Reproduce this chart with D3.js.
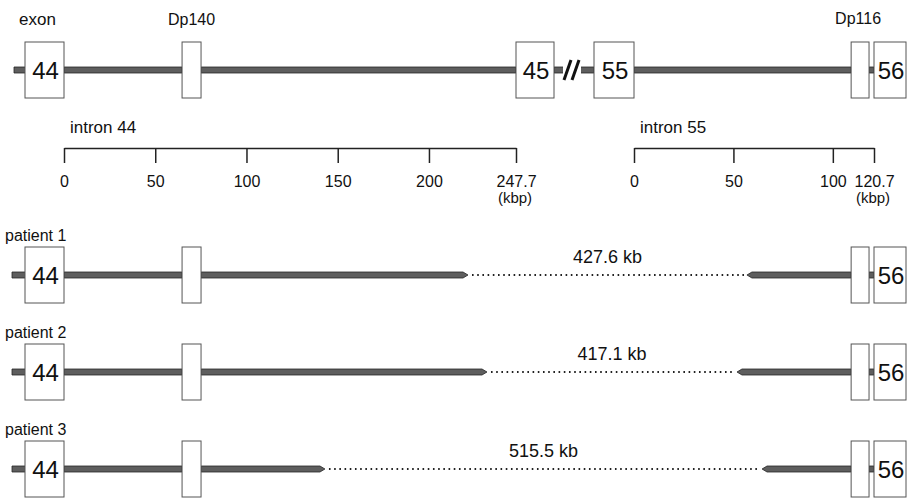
<!DOCTYPE html>
<html>
<head>
<meta charset="utf-8">
<script src="https://cdn.jsdelivr.net/npm/d3@7"></script>
<style>
	body { margin:0; background:#fff; }
	svg text { font-family:"Liberation Sans", Arial, sans-serif; fill:#111; }
</style>
</head>
<body>
<div id="gene-chart" style="width:909px;height:503px;"></div>
<script>
// exon labels and intron lengths (kbp)
var exonNames = ["44", "45", "55", "56"];
var intron44Length = 247.7;
var intron55Length = 120.7;
var intron44Ticks = [0, 50, 100, 150, 200, 247.7];
var intron55Ticks = [0, 50, 100, 120.7];

// promoter exons, position inside the intron (kbp)
var dp140Range = [64.7, 75.1];   // intron 44
var dp116Range = [109.2, 118.2]; // intron 55

// deletions
var patients = ["patient 1", "patient 2", "patient 3"];
var deletionLabels = ["427.6 kb", "417.1 kb", "515.5 kb"];
var break44 = [221.4, 231.8, 143.0]; // breakpoint in intron 44 (kbp)
var break55 = [56.8, 51.8, 64.4];    // breakpoint in intron 55 (kbp)

var dom = document.getElementById('gene-chart');
var width = 909, height = 503;

var svg = d3.select(dom)
	.append("svg")
	.attr("width", width)
	.attr("height", height);

var x44 = d3.scaleLinear().domain([0, intron44Length]).range([64, 516]);
var x55 = d3.scaleLinear().domain([0, intron55Length]).range([634, 874]);

var rowY = d3.scalePoint()
	.domain(patients)
	.range([275, 469]);

var topY = 70;
var barH = 6;
var boxUp = 28, boxDown = 28;

// thick intron line, optionally pointed at either end
function bar(g, xa, xb, y, tipL, tipR) {
	var h = barH / 2, t = 5;
	var pts = [
		[xa + (tipL ? t : 0), y - h],
		[xb - (tipR ? t : 0), y - h],
		[xb, y],
		[xb - (tipR ? t : 0), y + h],
		[xa + (tipL ? t : 0), y + h],
		[xa, y]
	];
	g.append("path")
		.attr("d", d3.line()(pts) + "Z")
		.attr("fill", "#5e5e5e")
		.attr("stroke", "#262626")
		.attr("stroke-width", 0.8);
}

function box(g, xa, xb, y, label) {
	g.append("rect")
		.attr("x", xa)
		.attr("y", y - boxUp)
		.attr("width", xb - xa)
		.attr("height", boxUp + boxDown)
		.attr("fill", "#fff")
		.attr("stroke", "#555")
		.attr("stroke-width", 1);
	if (label) {
		g.append("text")
			.attr("x", (xa + xb) / 2 + 1)
			.attr("y", y + 9)
			.attr("text-anchor", "middle")
			.attr("font-size", 24)
			.text(label);
	}
}

// ---- top row: normal gene ----
var topRow = svg.append("g");
bar(topRow, 14, 26, topY);
bar(topRow, x44(0), x44(dp140Range[0]), topY);
bar(topRow, x44(dp140Range[1]), x44(intron44Length), topY);
bar(topRow, x44(intron44Length) + 38, x55(0) - 40, topY);
bar(topRow, x55(0), x55(dp116Range[0]), topY);
bar(topRow, x55(dp116Range[1]), x55(intron55Length), topY);

// break mark
topRow.append("rect")
	.attr("x", 563).attr("y", topY - 5).attr("width", 18).attr("height", 10)
	.attr("fill", "#fff");
[567, 575].forEach(function(d) {
	topRow.append("line")
		.attr("x1", d - 3).attr("y1", topY + 10)
		.attr("x2", d + 4).attr("y2", topY - 10)
		.attr("stroke", "#111")
		.attr("stroke-width", 3);
});

box(topRow, 25, x44(0), topY, exonNames[0]);
box(topRow, x44(dp140Range[0]), x44(dp140Range[1]), topY);
box(topRow, x44(intron44Length), x44(intron44Length) + 38, topY, exonNames[1]);
box(topRow, x55(0) - 40, x55(0), topY, exonNames[2]);
box(topRow, x55(dp116Range[0]), x55(dp116Range[1]), topY);
box(topRow, x55(intron55Length), x55(intron55Length) + 32, topY, exonNames[3]);

topRow.append("text").attr("x", 19).attr("y", 25).attr("font-size", 17).text("exon");
topRow.append("text").attr("x", x44(d3.mean(dp140Range))).attr("y", 25)
	.attr("text-anchor", "middle").attr("font-size", 16).text("Dp140");
topRow.append("text").attr("x", x55(d3.mean(dp116Range)) - 2).attr("y", 24)
	.attr("text-anchor", "middle").attr("font-size", 16).text("Dp116");

// ---- intron scales ----
function scaleAxis(scale, ticks, title) {
	var axis = d3.axisBottom(scale)
		.tickValues(ticks)
		.tickFormat(function(d) { return String(d); })
		.tickSizeInner(15)
		.tickSizeOuter(0)
		.tickPadding(13);
	var g = svg.append("g")
		.attr("transform", "translate(0,148)")
		.call(axis);
	g.select(".domain").attr("stroke", "#222").attr("stroke-width", 1.5);
	g.selectAll(".tick line").attr("stroke", "#222").attr("stroke-width", 1.5);
	g.selectAll(".tick text")
		.attr("font-size", 16)
		.attr("font-family", "Liberation Sans, Arial, sans-serif")
		.attr("fill", "#111");
	g.append("text")
		.attr("x", scale(ticks[ticks.length - 1]) - 1)
		.attr("y", 55)
		.attr("text-anchor", "middle")
		.attr("font-size", 15)
		.text("(kbp)");
	svg.append("text")
		.attr("x", scale(0) + 6)
		.attr("y", 133)
		.attr("font-size", 17)
		.text(title);
}
scaleAxis(x44, intron44Ticks, "intron 44");
scaleAxis(x55, intron55Ticks, "intron 55");

// ---- patient rows ----
patients.forEach(function(p, i) {
	var y = rowY(p);
	var g = svg.append("g");
	bar(g, 12, 26, y);
	bar(g, x44(0), x44(dp140Range[0]), y);
	bar(g, x44(dp140Range[1]), x44(break44[i]), y, false, true);
	g.append("line")
		.attr("x1", x44(break44[i]) + 4)
		.attr("x2", x55(break55[i]) - 2)
		.attr("y1", y).attr("y2", y)
		.attr("stroke", "#222")
		.attr("stroke-width", 2.2)
		.attr("stroke-dasharray", "1.6,3.6");
	bar(g, x55(break55[i]), x55(dp116Range[0]), y, true, false);
	bar(g, x55(dp116Range[1]), x55(intron55Length), y);

	box(g, 25, x44(0), y, exonNames[0]);
	box(g, x44(dp140Range[0]), x44(dp140Range[1]), y);
	box(g, x55(dp116Range[0]), x55(dp116Range[1]), y);
	box(g, x55(intron55Length), x55(intron55Length) + 32, y, exonNames[3]);

	g.append("text").attr("x", 5).attr("y", y - 34).attr("font-size", 16).text(p);
	g.append("text")
		.attr("x", (x44(break44[i]) + x55(break55[i])) / 2)
		.attr("y", y - 12)
		.attr("text-anchor", "middle")
		.attr("font-size", 18)
		.text(deletionLabels[i]);
});
</script>
</body>
</html>
